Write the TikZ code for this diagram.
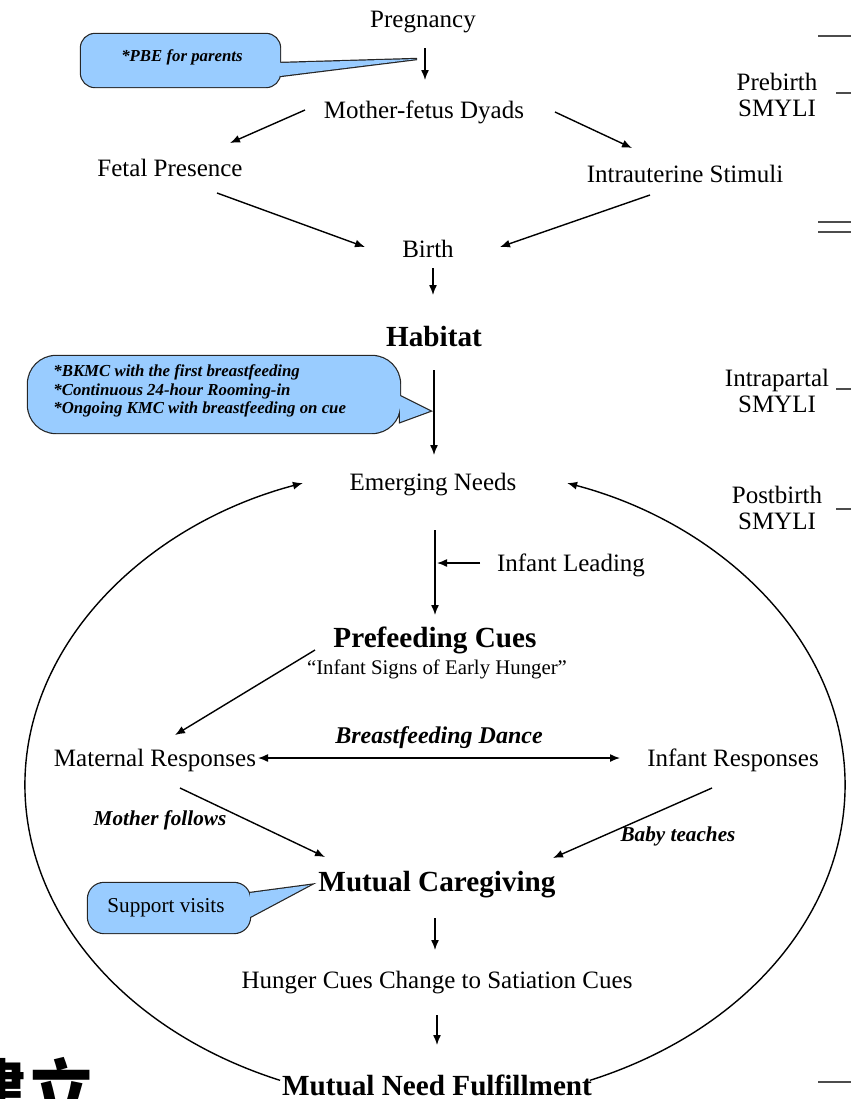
\documentclass[tikz,border=0pt]{standalone}
\usepackage{fontspec}
\setmainfont{Liberation Serif}
\newfontfamily\cjk{Noto Sans CJK SC}
\usepackage{xcolor}
\usetikzlibrary{arrows.meta}
\usetikzlibrary{calc}

\definecolor{bubbleblue}{RGB}{153,204,255}

\begin{document}
\begin{tikzpicture}[x=0.5pt,y=0.5pt,
        arr/.style={line width=0.7pt,-{Latex[length=5pt,width=4pt]}},
        darr/.style={line width=0.7pt,{Latex[length=5pt,width=4pt]}-{Latex[length=5pt,width=4pt]}},
        txt/.style={inner sep=0pt,font=\fontsize{12.5}{13}\selectfont},
        head/.style={inner sep=0pt,font=\fontsize{14.6}{16}\selectfont\bfseries},
        note/.style={inner sep=0pt,font=\fontsize{10.6}{12}\selectfont\bfseries\itshape},
        bubble/.style={preaction={draw=black!85,line width=1.2pt},fill=bubbleblue},
        bubtxt/.style={inner sep=0pt,align=left,font=\fontsize{8.4}{9.3}\selectfont\bfseries\itshape},
        stagetick/.style={draw=black!70,line width=1pt}]
    \useasboundingbox (0,0) rectangle (851,-1099);
    \clip (0,0) rectangle (851,-1099);

    % callouts
    \path[bubble] [rounded corners=7pt] (81,-34) rectangle (280,-87)
        [sharp corners] (280,-63) -- (417,-59) -- (280,-76) -- cycle;
    \path[bubble] [rounded corners=14pt] (28,-356) rectangle (400,-433)
        [sharp corners] (400,-396) -- (430,-411) -- (400,-422) -- cycle;
    \path[bubble] [rounded corners=8pt] (88,-883) rectangle (250,-933)
        [sharp corners] (250,-893) -- (310,-885) -- (250,-917) -- cycle;
    \node[bubtxt] (pbe) at (182,-57) {*PBE for parents};
    \node[bubtxt,anchor=west] (kmc) at (53,-391) {*BKMC with the first breastfeeding\\*Continuous 24-hour Rooming-in\\*Ongoing KMC with breastfeeding on cue};
    \node[inner sep=0pt,font=\fontsize{10.6}{12}\selectfont] (visits) at (166,-908) {Support visits};

    % prebirth
    \node[txt] (preg) at (423,-22) {Pregnancy};
    \node[txt] (dyad) at (424,-112) {Mother-fetus Dyads};
    \node[txt] (fetal) at (170,-168) {Fetal Presence};
    \node[txt] (stim) at (685,-174) {Intrauterine Stimuli};
    \node[txt] (birth) at (428,-249) {Birth};
    \node[head] (habitat) at (434,-337) {Habitat};
    \draw[arr] ($(preg)+(2,-26)$) -- ($(dyad)+(1,32)$);
    \draw[arr] ($(dyad)+(-119,2)$) -- ($(fetal)+(60,25)$);
    \draw[arr] ($(dyad)+(131,0)$) -- ($(stim)+(-53,26)$);
    \draw[arr] ($(fetal)+(47,-25)$) -- ($(birth)+(-63,2)$);
    \draw[arr] ($(stim)+(-35,-21)$) -- ($(birth)+(72,2)$);
    \draw[arr] ($(birth)+(5,-19)$) -- ($(habitat)+(-1,42)$);

    % the feeding cycle
    \node[txt] (needs) at (433,-485) {Emerging Needs};
    \node[txt] (lead) at (571,-565) {Infant Leading};
    \node[head] (cues) at (435,-640) {Prefeeding Cues};
    \node[inner sep=0pt,font=\fontsize{10.4}{12}\selectfont] (signs) at (437,-669) {“Infant Signs of Early Hunger”};
    \node[txt] (mat) at (155,-760) {Maternal Responses};
    \node[txt] (inf) at (733,-760) {Infant Responses};
    \node[head] (mutual) at (437,-885) {Mutual Caregiving};
    \node[txt] (hunger) at (437,-983) {Hunger Cues Change to Satiation Cues};
    \node[head] (mnf) at (437,-1085) {Mutual Need Fulfillment};
    \node[note] (follows) at (160,-820) {Mother follows};
    \node[note] (teaches) at (678,-836) {Baby teaches};
    \coordinate (leadend) at (437,-563);
    \coordinate (ring) at (435,-785);

    \draw[arr] ($(habitat)+(0,-33)$) -- ($(needs)+(1,30)$);
    \draw[arr] ($(needs)+(2,-45)$) -- ($(cues)+(0,25)$);
    \draw[arr] ($(lead)+(-91,2)$) -- (leadend);
    \draw[arr] ($(cues)+(-120,-10)$) -- ($(mat)+(20,25)$);
    \draw[darr] ($(mat)+(103,2)$) -- node[yshift=10pt,inner sep=0pt,font=\fontsize{12}{13}\selectfont\bfseries\itshape] (dance) {Breastfeeding Dance} ($(inf)+(-113,2)$);
    \draw[arr] ($(mat)+(25,-28)$) -- ($(mutual)+(-112,28)$);
    \draw[arr] ($(inf)+(-21,-28)$) -- ($(mutual)+(116,27)$);
    \draw[arr] ($(mutual)+(-2,-33)$) -- ($(hunger)+(-2,33)$);
    \draw[arr] ($(hunger)+(0,-32)$) -- ($(mnf)+(0,40)$);
    \draw[arr] ($(ring)+(247.8:205pt and 159.5pt)$) arc[start angle=247.8,end angle=108.8,x radius=205pt,y radius=159.5pt];
    \draw[arr] ($(ring)+(-67.8:205pt and 159.5pt)$) arc[start angle=-67.8,end angle=71.2,x radius=205pt,y radius=159.5pt];

    % stages on the right
    \node[txt,align=center] (prestage) at (777,-95) {Prebirth\\SMYLI};
    \node[txt,align=center] (intrastage) at (777,-391) {Intrapartal\\SMYLI};
    \node[txt,align=center] (poststage) at (777,-508) {Postbirth\\SMYLI};
    \draw[stagetick] (818,-36) -- (851,-36);
    \draw[stagetick] (836,-93) -- (851,-93);
    \draw[stagetick] (818,-222) -- (851,-222);
    \draw[stagetick] (818,-232) -- (851,-232);
    \draw[stagetick] (836,-389) -- (851,-389);
    \draw[stagetick] (836,-509) -- (851,-509);
    \draw[stagetick] (818,-1082) -- (851,-1082);

    \node[anchor=base west,inner sep=0pt,font={\fontsize{34}{36}\selectfont\cjk\bfseries}] (jianli) at (-41,-1116) {建立};
\end{tikzpicture}
\end{document}
